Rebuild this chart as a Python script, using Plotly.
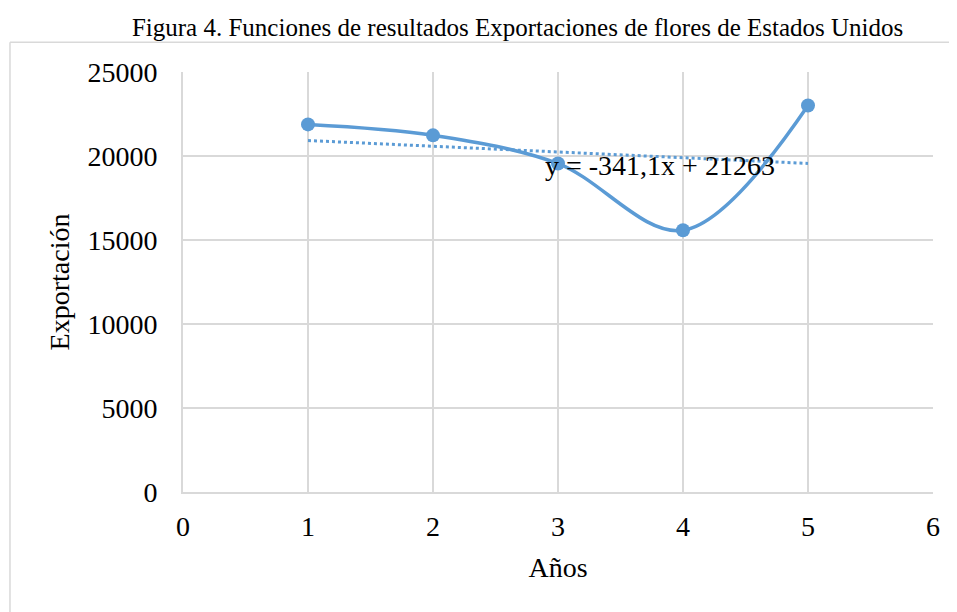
import plotly.graph_objects as go

# datos
anios = [1, 2, 3, 4, 5]
exportacion = [21880, 21230, 19550, 15580, 23010]

# linea de tendencia segun la ecuacion mostrada
trend_slope = -341.1
trend_intercept = 21263
trend_x = [1, 5]
trend_label = "y = -341,1x + 21263"

azul = "#5B9BD5"
gris = "#D9D9D9"
fuente = "Liberation Serif, Times New Roman, serif"

trend_y = [trend_slope * x + trend_intercept for x in trend_x]

fig = go.Figure()
fig.add_trace(go.Scatter(
    x=trend_x, y=trend_y, mode="lines",
    line=dict(color=azul, width=3, dash="dot"),
    showlegend=False, hoverinfo="skip"))
fig.add_trace(go.Scatter(
    x=anios, y=exportacion, mode="lines+markers",
    line=dict(color=azul, width=3.5, shape="spline", smoothing=1.0),
    marker=dict(color=azul, size=14),
    showlegend=False))

fig.add_annotation(x=2.88, y=19460, text=trend_label, showarrow=False,
                   xanchor="left", yanchor="middle",
                   font=dict(family=fuente, size=28, color="black"))

# marco exterior del grafico (solo borde superior e izquierdo visibles)
fig.add_shape(type="line", xref="paper", yref="paper",
              x0=-0.2307, x1=1.2, y0=1.0706, y1=1.0706,
              line=dict(color=gris, width=1.5), layer="below")
fig.add_shape(type="line", xref="paper", yref="paper",
              x0=-0.2307, x1=-0.2307, y0=-0.4, y1=1.0706,
              line=dict(color=gris, width=1.5), layer="below")

# la pagina tiene 8px de margen en el body
fig.update_layout(
    width=949, height=604,
    margin=dict(l=175, r=24, t=64, b=120),
    paper_bgcolor="white", plot_bgcolor="white",
    font=dict(family=fuente, color="black"),
    title=dict(text="Figura 4. Funciones de resultados Exportaciones de flores de Estados Unidos",
               x=0.537, xanchor="center", y=0.9685, yanchor="middle",
               font=dict(family=fuente, size=25, color="black")),
)
fig.update_xaxes(range=[0, 6], dtick=1, showgrid=True, gridcolor=gris, gridwidth=1.5,
                 showline=True, linecolor=gris, linewidth=2, mirror=False, automargin=False,
                 zeroline=False, ticks="outside", ticklen=8, tickcolor="rgba(0,0,0,0)",
                 tickfont=dict(size=28),
                 title=dict(text="Años", font=dict(size=28), standoff=17))
fig.update_yaxes(range=[0, 25000], dtick=5000, tickformat="d", showgrid=True, gridcolor=gris,
                 gridwidth=1.5, showline=True, linecolor=gris, linewidth=2, automargin=False,
                 zeroline=False, ticks="outside", ticklen=18, tickcolor="rgba(0,0,0,0)",
                 tickfont=dict(size=28),
                 title=dict(text="Exportación", font=dict(size=28), standoff=10))

fig.write_html("out.html")
